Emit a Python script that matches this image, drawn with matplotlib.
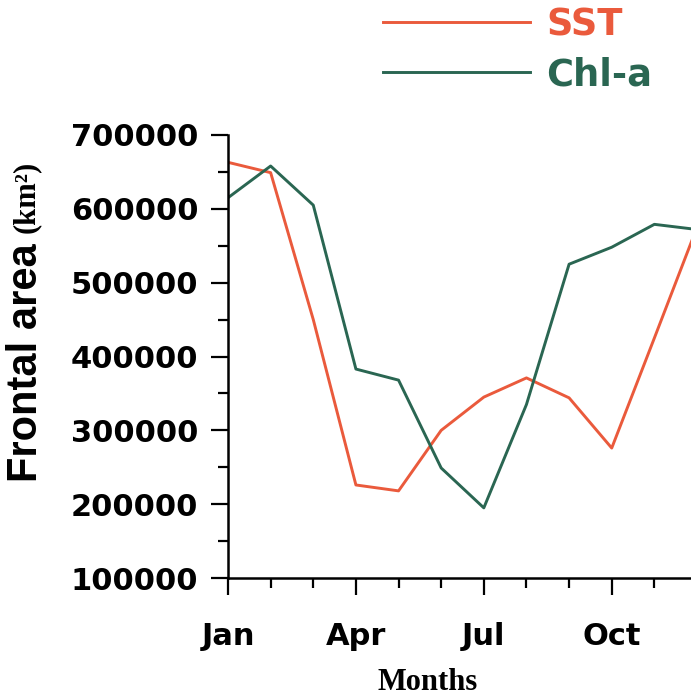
import matplotlib.pyplot as plt
from matplotlib.ticker import MultipleLocator, FixedLocator

# Monthly frontal area (km^2) derived from SST and Chl-a fronts
months = list(range(1, 13))
month_labels = ["Jan", "Apr", "Jul", "Oct"]
month_label_pos = [1, 4, 7, 10]
sst_area = [663000, 649000, 450000, 226000, 218000, 300000,
            345000, 371000, 344000, 276000, 425000, 575000]
chl_area = [615000, 658000, 605000, 383000, 368000, 249000,
            195000, 335000, 525000, 548000, 579000, 572000]

sst_color = "#ea5a3c"
chl_color = "#2a6652"

fig = plt.figure(figsize=(6.91, 6.99), dpi=100)
ax = fig.add_axes([228 / 691, 1 - 578 / 699, (697 - 228) / 691, (578 - 135) / 699])

ax.plot(months, sst_area, color=sst_color, lw=2.1, label="SST")
ax.plot(months, chl_area, color=chl_color, lw=2.1, label="Chl-a")

ax.set_xlim(1, 12)
ax.set_ylim(100000, 700000)

for side in ["top", "right"]:
    ax.spines[side].set_visible(False)
for side in ["left", "bottom"]:
    ax.spines[side].set_linewidth(1.8)

ax.xaxis.set_major_locator(FixedLocator(month_label_pos))
ax.xaxis.set_minor_locator(MultipleLocator(1))
ax.set_xticklabels(month_labels)
ax.yaxis.set_major_locator(MultipleLocator(100000))
ax.yaxis.set_minor_locator(MultipleLocator(50000))
ax.yaxis.set_major_formatter(plt.FuncFormatter(lambda v, p: f"{int(v)}"))

ax.tick_params(axis="both", which="major", length=12.5, width=1.6, direction="out")
ax.tick_params(axis="both", which="minor", length=7, width=1.6, direction="out")
ax.tick_params(axis="x", which="major", pad=19)
ax.tick_params(axis="y", which="major", pad=9)
for lab in ax.get_xticklabels() + ax.get_yticklabels():
    lab.set_fontfamily("DejaVu Sans")
    lab.set_fontweight("bold")
    lab.set_fontsize(22)

# axis titles
fig.text(26 / 691, 1 - 482 / 699, "Frontal area", rotation=90, ha="center", va="bottom",
         family="Liberation Sans", weight="bold", fontsize=30)
fig.text(26 / 691, 1 - 233 / 699, "(km²)", rotation=90, ha="center", va="bottom",
         family="Liberation Serif", weight="bold", fontsize=22)
fig.text(428 / 691, 1 - 668 / 699, "Months", ha="center", va="top",
         family="Liberation Serif", weight="bold", fontsize=22)

leg = fig.legend(loc="upper left", bbox_to_anchor=(383 / 691, 1 - 6 / 699),
                 frameon=False, borderpad=0, borderaxespad=0,
                 handlelength=4.0, handletextpad=0.43, labelspacing=0.36,
                 prop={"family": "DejaVu Sans", "weight": "bold", "size": 26.5})
for txt, c in zip(leg.get_texts(), [sst_color, chl_color]):
    txt.set_color(c)

fig.savefig("out.png", dpi=100)
